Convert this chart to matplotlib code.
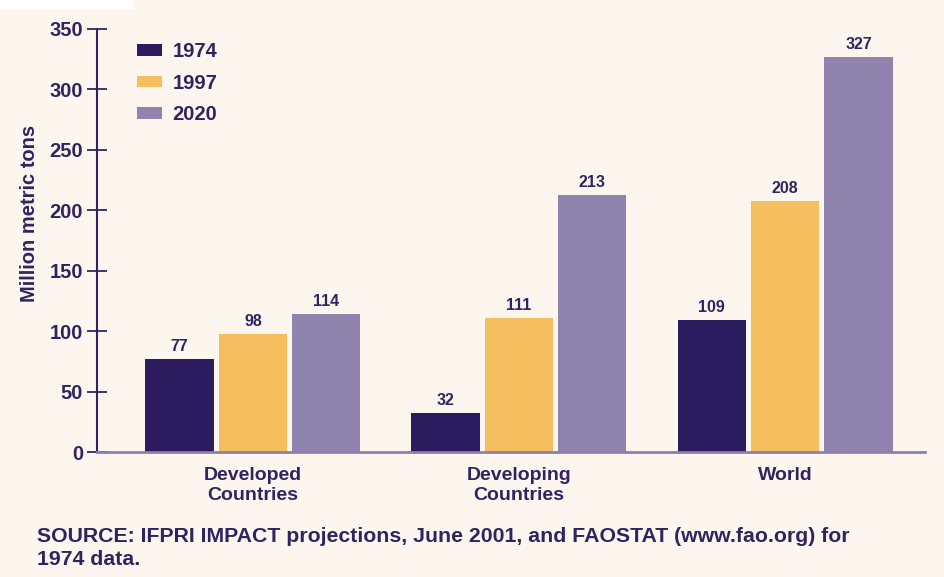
import numpy as np
import matplotlib.pyplot as plt

# data
regions = ['Developed\nCountries', 'Developing\nCountries', 'World']
years = ['1974', '1997', '2020']
v1974 = [77, 32, 109]
v1997 = [98, 111, 208]
v2020 = [114, 213, 327]
yticks = [0, 50, 100, 150, 200, 250, 300, 350]

bg = '#fdf6ef'
ink = '#2e2560'
colors = ['#2a1c5e', '#f5bf60', '#8f84ad']

plt.rcParams['font.family'] = ['Liberation Sans', 'DejaVu Sans']

fig = plt.figure(figsize=(9.45, 5.77), dpi=100, facecolor=bg)
# small white strip at the top-left of the scan
fig.patches.append(plt.Rectangle((0, 1 - 8 / 577), 133 / 945, 8 / 577,
                                 transform=fig.transFigure, color='white', zorder=0))
ax = fig.add_axes([97 / 945, 125 / 577, 828 / 945, 423 / 577])
ax.set_facecolor(bg)

x = np.arange(len(regions))
w = 0.256
step = 0.276
for i, (vals, yr) in enumerate(zip([v1974, v1997, v2020], years)):
    pos = x + (i - 1) * step
    bars = ax.bar(pos, vals, width=w, color=colors[i], label=yr, zorder=2)
    for b, v in zip(bars, vals):
        ax.text(b.get_x() + b.get_width() / 2, v + 4, str(v), ha='center', va='bottom',
                fontsize=11.5, fontweight='bold', color=ink)

ax.set_xlim(-0.586, 2.526)
ax.set_ylim(0, 350)
ax.set_yticks(yticks)
ax.set_yticklabels([str(t) for t in yticks], fontsize=14.5, fontweight='bold', color=ink)
ax.tick_params(axis='y', direction='inout', length=14, width=1.3, color=ink, pad=3)
ax.set_xticks(x)
ax.set_xticklabels(regions, fontsize=14, fontweight='bold', color=ink, linespacing=1.2)
ax.tick_params(axis='x', length=0, pad=11)

for s in ['top', 'right']:
    ax.spines[s].set_visible(False)
ax.spines['left'].set_color(ink)
ax.spines['left'].set_linewidth(1.5)
ax.spines['bottom'].set_color('#8a82a8')
ax.spines['bottom'].set_linewidth(2)

ax.set_ylabel('Million metric tons', fontsize=14.5, fontweight='bold', color=ink)
ax.yaxis.set_label_coords(-0.07, 0.563)

leg = ax.legend(loc='upper left', bbox_to_anchor=(0.027, 1.012), frameon=False,
                handlelength=1.2, handleheight=0.5, labelspacing=0.62, handletextpad=0.55,
                prop={'size': 14.5, 'weight': 'bold'})
for t in leg.get_texts():
    t.set_color(ink)

fig.text(37 / 945, 1 - 548 / 577,
         'SOURCE: IFPRI IMPACT projections, June 2001, and FAOSTAT (www.fao.org) for\n1974 data.',
         fontsize=15.3, fontweight='bold', color=ink, va='center', linespacing=1.3)

fig.savefig('out.png', dpi=100, facecolor=bg)
